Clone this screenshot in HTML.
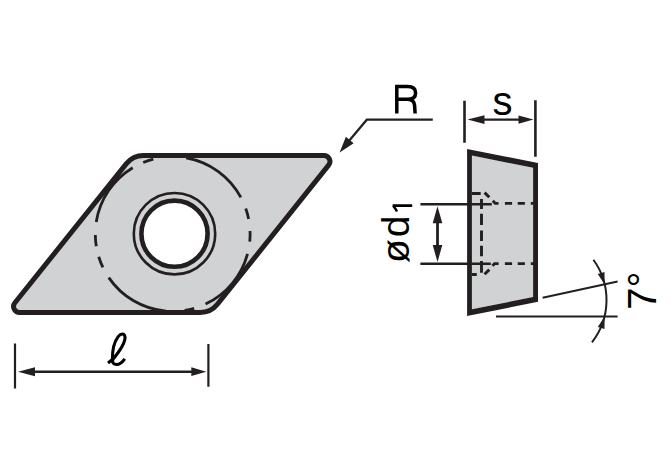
<!DOCTYPE html>
<html><head><meta charset="utf-8"><style>
html,body{margin:0;padding:0;background:#fff;width:670px;height:460px;overflow:hidden}
svg{display:block}
</style></head><body>
<svg width="670" height="460" viewBox="0 0 670 460" font-family="Liberation Sans, sans-serif">
<path d="M143.56,155.40 L323.92,155.40 A6.00,6.00 0 0 1 328.61,165.15 L217.41,304.24 A22.00,22.00 0 0 1 200.22,312.50 L19.60,312.50 A6.00,6.00 0 0 1 14.92,302.75 L126.39,163.64 A22.00,22.00 0 0 1 143.56,155.40 Z" fill="#d1d2d4" stroke="none"/>
<path d="M186.14,157.78 A77.40,77.40 0 0 1 240.85,197.31 M245.75,208.42 A77.40,77.40 0 0 1 248.63,218.97 M250.04,231.03 A77.40,77.40 0 0 1 249.73,241.55 M247.53,253.77 A77.40,77.40 0 0 1 205.53,304.09 M194.16,308.36 A77.40,77.40 0 0 1 184.67,310.47 M165.95,311.11 A77.40,77.40 0 0 1 108.76,277.62 M102.90,267.44 A77.40,77.40 0 0 1 98.72,256.76 M96.27,246.24 A77.40,77.40 0 0 1 95.31,234.95 M96.23,222.03 A77.40,77.40 0 0 1 132.72,167.72 M143.21,162.44 A77.40,77.40 0 0 1 153.32,159.07" fill="none" stroke="#231f20" stroke-width="2.8"/>
<path d="M143.56,155.40 L323.92,155.40 A6.00,6.00 0 0 1 328.61,165.15 L217.41,304.24 A22.00,22.00 0 0 1 200.22,312.50 L19.60,312.50 A6.00,6.00 0 0 1 14.92,302.75 L126.39,163.64 A22.00,22.00 0 0 1 143.56,155.40 Z" fill="none" stroke="#231f20" stroke-width="5"/>
<circle cx="174.5" cy="233.7" r="33.1" fill="#fff" stroke="#231f20" stroke-width="4.6"/>
<circle cx="174.5" cy="233.7" r="40.7" fill="none" stroke="#231f20" stroke-width="2.6"/>
<path d="M432.8,119.7 L366.8,119.7 L346,144.5" fill="none" stroke="#231f20" stroke-width="2.2"/>
<path d="M339.60,152.40 L345.90,136.87 L353.63,143.22 Z" fill="#231f20"/>
<path d="M396.8,113.5 V86.6 H407.5 C413.2,86.6 415.6,89.3 415.6,92.9 C415.6,96.6 413,99.2 407.5,99.2 H396.8 M408,99.2 C412.5,99.5 414.3,101.5 414.6,105.5 L415.1,113.5" fill="none" stroke="#000" stroke-width="3.5"/>
<path d="M464.5,100.8 V142.7 M535.4,100.2 V156.8" stroke="#231f20" stroke-width="2.6" fill="none"/>
<path d="M480,119.6 H520" stroke="#231f20" stroke-width="2.4" fill="none"/>
<path d="M467.50,119.60 L484.50,115.30 L484.50,123.90 Z" fill="#231f20"/>
<path d="M533.50,119.60 L518.50,123.80 L518.50,115.40 Z" fill="#231f20"/>
<text x="492.5" y="114.9" font-family="Liberation Sans" font-size="40" fill="#000">s</text>
<path d="M471.90,155.58 L533.10,167.82 L533.10,297.08 L471.90,309.32 Z" fill="#d1d2d4"/>
<path d="M467.10,148.92 L538.00,163.10 L538.00,301.80 L467.10,315.98 Z M471.90,309.32 L533.10,297.08 L533.10,167.82 L471.90,155.58 Z" fill="#231f20" fill-rule="evenodd"/>
<path d="M471.9,193.5 H480.7 M484.6,192.6 L489.3,197.3 M492.8,200.8 L495.3,203.4 H498.5 M504.9,203.4 H512.1 M517.7,203.4 H524.9 M530.8,203.4 H534 M471.9,274.5 H476.8 M484.6,274.3 L489.3,269.6 M492.4,265.7 L494.6,263.6 H498.6 M504.9,263.6 H512.1 M517.7,263.6 H524.9 M530.8,263.6 H534 M481.5,199 V209.1 M481.5,213.7 V225.1 M481.5,230.4 V241.1 M481.5,245.7 V256.3 M481.5,260.9 V272.8" fill="none" stroke="#231f20" stroke-width="2.9"/>
<path d="M420.4,204.2 H491.8 M420.4,263.7 H490.8" stroke="#231f20" stroke-width="2.6" fill="none"/>
<path d="M437.5,220 V248" stroke="#231f20" stroke-width="2.8" fill="none"/>
<path d="M437.50,206.30 L442.30,223.30 L432.70,223.30 Z" fill="#231f20"/>
<path d="M437.50,262.10 L432.70,245.10 L442.30,245.10 Z" fill="#231f20"/>
<text transform="translate(409.3,262.9) rotate(-90)" font-family="Liberation Sans" font-size="39" fill="#000">ø<tspan dx="1.8">d</tspan></text>
<path d="M412.2,205.6 H392.6 M393.2,205.8 C394.5,207.5 396,209.5 397,211.5" fill="none" stroke="#000" stroke-width="2.6"/>
<path d="M542.6,297.8 L617.6,281.5 M496,316.6 H617.6" stroke="#231f20" stroke-width="2" fill="none"/>
<path d="M593.40,259.78 A68.60,68.60 0 0 1 591.96,342.33" stroke="#231f20" stroke-width="2" fill="none"/>
<path d="M604.60,284.50 L597.80,274.01 L604.50,272.00 Z" fill="#231f20"/>
<path d="M604.60,316.50 L604.50,329.00 L597.80,326.99 Z" fill="#231f20"/>
<text transform="translate(655.8,309.8) rotate(-90)" font-family="Liberation Sans" font-size="40" fill="#000">7°</text>
<path d="M15,343.5 V388.5 M208.4,343.9 V386.8" stroke="#231f20" stroke-width="2.2" fill="none"/>
<path d="M30,371.7 H195" stroke="#231f20" stroke-width="2.4" fill="none"/>
<path d="M18.00,371.70 L35.00,367.20 L35.00,376.20 Z" fill="#231f20"/>
<path d="M206.30,371.70 L191.30,376.10 L191.30,367.30 Z" fill="#231f20"/>
<path d="M108,363 L112.4,359.5 C112.3,350 114,342 118.2,336.6 C120.7,333.3 124.6,332.8 125,337.2 C125.4,342 121,349.5 112.8,359.6 C112,362.5 113.5,364.5 116.5,364.5 C119.5,364.5 122.5,362 124.8,358.8" fill="none" stroke="#000" stroke-width="3.1" stroke-linejoin="round"/>
</svg>
</body></html>
